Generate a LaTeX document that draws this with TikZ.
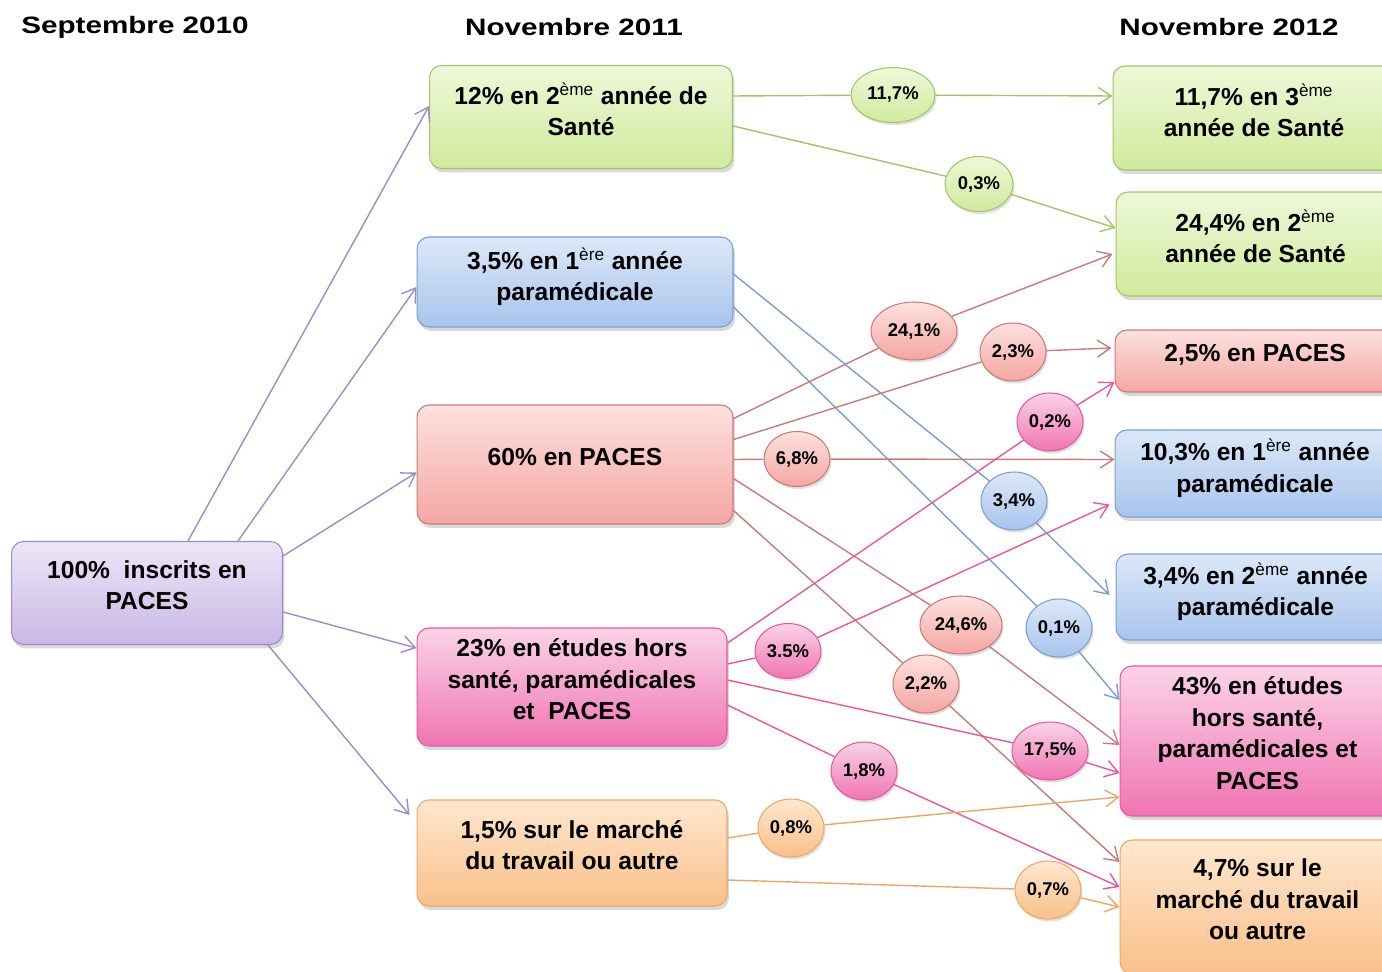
\documentclass[tikz,border=0pt]{standalone}
\usepackage{fontspec}
\setmainfont{Liberation Sans}
\newfontfamily\titrefont[FakeStretch=1.25]{Liberation Sans}
\usepackage{tikz}
\usetikzlibrary{shapes.geometric,shadows,arrows.meta}

\definecolor{vertH}{HTML}{EEF8D8}
\definecolor{vertB}{HTML}{D0EA9C}
\definecolor{vertL}{HTML}{A3C469}
\definecolor{bleuH}{HTML}{DCE8F8}
\definecolor{bleuB}{HTML}{A8C4EC}
\definecolor{bleuL}{HTML}{7A9ED2}
\definecolor{rougeH}{HTML}{FDE1DF}
\definecolor{rougeB}{HTML}{F4A6A2}
\definecolor{rougeL}{HTML}{C77C77}
\definecolor{roseH}{HTML}{FBD3E8}
\definecolor{roseB}{HTML}{F074B2}
\definecolor{roseL}{HTML}{E8589F}
\definecolor{orangeH}{HTML}{FEE7CE}
\definecolor{orangeB}{HTML}{F9C08A}
\definecolor{orangeL}{HTML}{EDA764}
\definecolor{violetH}{HTML}{EDE6F7}
\definecolor{violetB}{HTML}{C8B8E6}
\definecolor{violetL}{HTML}{9E8BC8}

\newcommand{\exposant}[1]{\textsuperscript{\mdseries #1}}

\tikzset{
  titre/.style={font=\titrefont\bfseries\fontsize{13.5}{15}\selectfont},
  box/.style={draw, rounded corners=0.24cm, line width=0.6pt, align=center,
    inner sep=2pt, font=\bfseries\fontsize{14}{18}\selectfont,
    execute at end node={\rule[-9pt]{0pt}{9pt}},
    drop shadow={shadow xshift=0.04cm, shadow yshift=-0.08cm, opacity=0.3}},
  pct/.style={ellipse, draw, line width=0.6pt, inner sep=0pt,
    minimum width=1.32cm, minimum height=1.16cm,
    font=\bfseries\fontsize{10.5}{12}\selectfont,
    drop shadow={shadow xshift=0.03cm, shadow yshift=-0.05cm, opacity=0.25}},
  depart/.style={top color=violetH, bottom color=violetB, draw=violetL},
  sante/.style={top color=vertH, bottom color=vertB, draw=vertL},
  para/.style={top color=bleuH, bottom color=bleuB, draw=bleuL},
  paces/.style={top color=rougeH, bottom color=rougeB, draw=rougeL},
  hors/.style={top color=roseH, bottom color=roseB, draw=roseL},
  travail/.style={top color=orangeH, bottom color=orangeB, draw=orangeL},
  lien/.style={line width=0.8pt, -{Straight Barb[length=2.6mm,width=3.4mm]}},
}

\begin{document}
\begin{tikzpicture}[x=0.02cm,y=-0.02cm]
\useasboundingbox (0,0) rectangle (1382,972);
\clip (0,0) rectangle (1382,972);

% titres
\node[titre] (t1) at (135,27) {Septembre 2010};
\node[titre] (t2) at (574,27) {Novembre 2011};
\node[titre] (t3) at (1229,27) {Novembre 2012};

% septembre 2010
\node[box, depart, minimum width=5.42cm, minimum height=2.06cm] (start) at (147,593) {100\%~ inscrits en\\PACES};

% novembre 2011
\node[box, sante, minimum width=6.06cm, minimum height=2.06cm] (g1) at (581,117) {12\% en 2\exposant{ème} année de\\Santé};
\node[box, para, minimum width=6.32cm, minimum height=1.8cm] (b1) at (575,282) {3,5\% en 1\exposant{ère} année\\paramédicale};
\node[box, paces, minimum width=6.32cm, minimum height=2.38cm] (r1) at (575,464.5) {60\% en PACES};
\node[box, hors, minimum width=6.2cm, minimum height=2.36cm] (p1) at (572,687) {23\% en études hors\\santé, paramédicales\\et~ PACES};
\node[box, travail, minimum width=6.2cm, minimum height=2.12cm] (o1) at (572,853) {1,5\% sur le marché\\du travail ou autre};

% novembre 2012
\node[box, sante, minimum width=5.64cm, minimum height=2.08cm] (g3a) at (1254,118) {11,7\% en 3\exposant{ème}\\année de Santé};
\node[box, sante, minimum width=5.58cm, minimum height=2.08cm] (g3b) at (1255.5,244) {24,4\% en 2\exposant{ème}\\année de Santé};
\node[box, paces, minimum width=5.6cm, minimum height=1.24cm] (r3) at (1255,361) {2,5\% en PACES};
\node[box, para, minimum width=5.6cm, minimum height=1.74cm] (b3a) at (1255,473.5) {10,3\% en 1\exposant{ère} année\\paramédicale};
\node[box, para, minimum width=5.58cm, minimum height=1.72cm] (b3b) at (1255.5,597) {3,4\% en 2\exposant{ème} année\\paramédicale};
\node[box, hors, minimum width=5.5cm, minimum height=3cm] (p3) at (1257.5,741) {43\% en études\\hors santé,\\paramédicales et\\PACES};
\node[box, travail, minimum width=5.5cm, minimum height=2.68cm] (o3) at (1257.5,907) {4,7\% sur le\\marché du travail\\ou autre};

% pourcentages
\node[pct, sante, minimum width=1.68cm, minimum height=1.1cm] (v117) at (893,95) {11,7\%};
\node[pct, sante, minimum width=1.36cm, minimum height=1.1cm] (v03) at (979,184) {0,3\%};
\node[pct, paces, minimum width=1.72cm] (v241) at (914,331) {24,1\%};
\node[pct, paces] (v23) at (1013,352) {2,3\%};
\node[pct, hors] (v02) at (1050,422) {0,2\%};
\node[pct, paces, minimum height=1.1cm] (v68) at (797,459) {6,8\%};
\node[pct, para] (v34) at (1014,501) {3,4\%};
\node[pct, paces, minimum width=1.64cm] (v246) at (961,625) {24,6\%};
\node[pct, para] (v01) at (1059,628) {0,1\%};
\node[pct, hors, minimum height=1.1cm] (v35) at (788,651) {3.5\%};
\node[pct, paces] (v22) at (926,684) {2,2\%};
\node[pct, hors, minimum width=1.52cm] (v175) at (1050,751) {17,5\%};
\node[pct, hors] (v18) at (864,771) {1,8\%};
\node[pct, travail] (v08) at (791,828) {0,8\%};
\node[pct, travail] (v07) at (1048,890) {0,7\%};

% depart vers novembre 2011
\draw[lien, violetL] ([xshift=0.82cm]start.north) -- ([yshift=0.22cm]g1.west);
\draw[lien, violetL] ([xshift=1.82cm]start.north) -- ([yshift=-0.1cm]b1.west);
\draw[lien, violetL] ([yshift=0.74cm]start.east) -- ([yshift=-0.16cm]r1.west);
\draw[lien, violetL] ([yshift=-0.38cm]start.east) -- ([yshift=0.78cm]p1.west);
\draw[lien, violetL] ([xshift=2.42cm]start.south) -- ([xshift=-0.14cm,yshift=0.76cm]o1.west);

% sante
\draw[lien, vertL] ([yshift=0.42cm]g1.east) -- (v117) -- ([yshift=0.44cm]g3a.west);
\draw[lien, vertL] ([yshift=-0.18cm]g1.east) -- (v03) -- ([yshift=0.32cm]g3b.west);

% paramedical
\draw[lien, bleuL] ([yshift=0.16cm]b1.east) -- (v34) -- ([xshift=-0.12cm,yshift=0.04cm]b3b.west);
\draw[lien, bleuL] ([yshift=-0.5cm]b1.east) -- (v01) -- ([yshift=0.82cm]p3.west);

% paces
\draw[lien, rougeL] ([yshift=0.92cm]r1.east) -- (v241) -- ([xshift=-0.06cm,yshift=-0.2cm]g3b.west);
\draw[lien, rougeL] ([yshift=0.5cm]r1.east) -- (v23) -- ([xshift=-0.06cm,yshift=0.26cm]r3.west);
\draw[lien, rougeL] ([yshift=0.1cm]r1.east) -- (v68) -- ([yshift=0.28cm]b3a.west);
\draw[lien, rougeL] ([yshift=-0.28cm]r1.east) -- (v246) -- ([yshift=-0.08cm]p3.west);
\draw[lien, rougeL] ([yshift=-0.92cm]r1.east) -- (v22) -- ([yshift=0.9cm]o3.west);

% hors sante
\draw[lien, roseL] ([yshift=0.88cm]p1.east) -- (v02) -- ([yshift=-0.42cm]r3.west);
\draw[lien, roseL] ([yshift=0.46cm]p1.east) -- (v35) -- ([xshift=-0.1cm,yshift=-0.62cm]b3a.west);
\draw[lien, roseL] ([yshift=0.14cm]p1.east) -- (v175) -- ([yshift=-0.64cm]p3.west);
\draw[lien, roseL] ([yshift=-0.36cm]p1.east) -- (v18) -- ([yshift=0.4cm]o3.west);

% travail
\draw[lien, orangeL] ([yshift=0.3cm]o1.east) -- (v08) -- ([yshift=-1.12cm]p3.west);
\draw[lien, orangeL] ([yshift=-0.54cm]o1.east) -- (v07) -- (o3.west);
\end{tikzpicture}
\end{document}
